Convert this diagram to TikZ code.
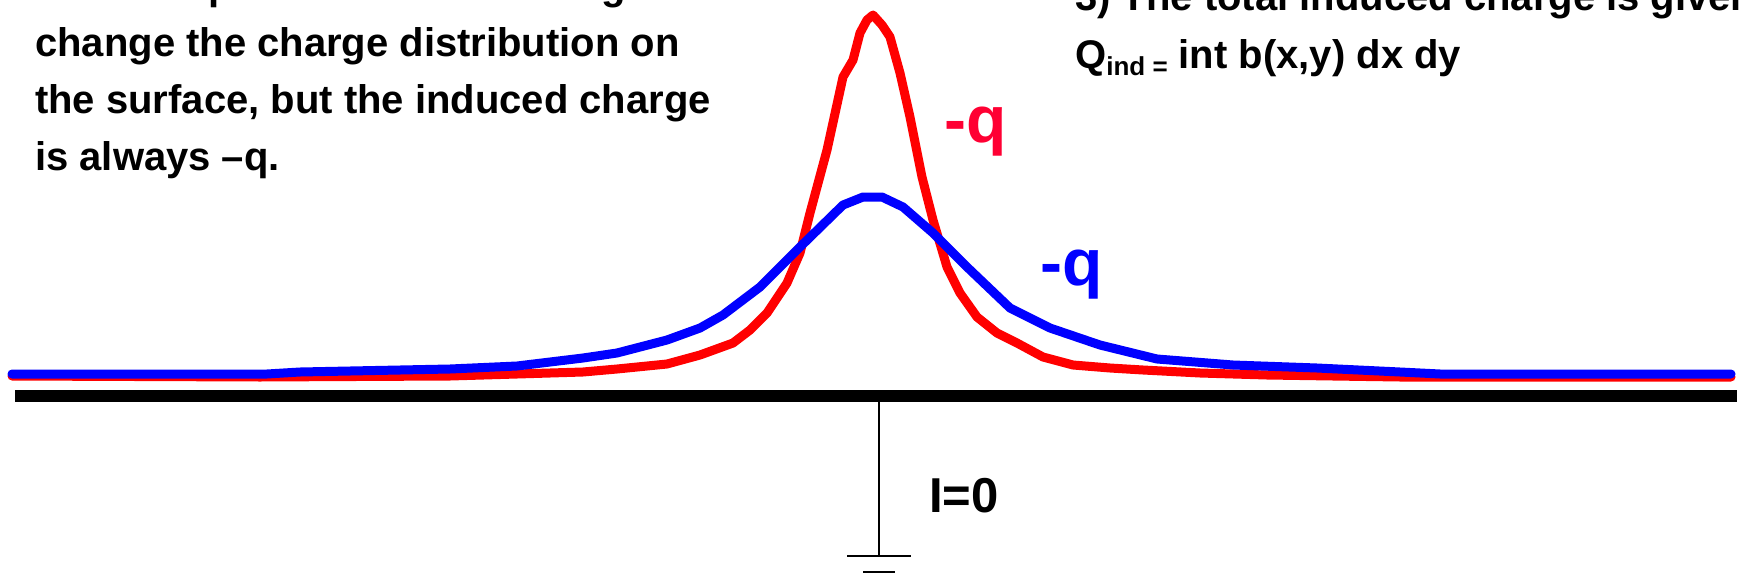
\documentclass[tikz,border=0pt]{standalone}
\usepackage{fontspec}
\setmainfont{Liberation Sans}
\tikzset{
  slide text/.style={anchor=base west, inner sep=0pt, font=\fontsize{40}{57}\selectfont\bfseries},
  charge label/.style={anchor=base, inner sep=0pt, font=\fontsize{66}{66}\selectfont\bfseries},
  density/.style={line width=9pt, line cap=round, line join=round},
}
\begin{document}
\begin{tikzpicture}[x=1pt, y=-1pt]
  \definecolor{sigmared}{RGB}{255,0,0}
  \definecolor{sigmablue}{RGB}{0,0,255}
  \definecolor{labelred}{RGB}{255,0,51}
  \useasboundingbox (0,0) rectangle (1743,584);
  \fill[white] (0,0) rectangle (1743,584);
  % grounded plane
  \coordinate (planeL) at (15,396);
  \coordinate (planeR) at (1737,396);
  \coordinate (tap) at (879,402);
  \coordinate (earth) at (879,556);
  \draw[line width=12pt] (planeL) -- (planeR);
  \draw[line width=2pt] (tap) -- (earth);
  \draw[line width=2pt] ([xshift=-32pt]earth) -- ([xshift=32pt]earth);
  \draw[line width=2pt] ([xshift=-16pt,yshift=-16pt]earth) -- ([xshift=16pt,yshift=-16pt]earth);
  % induced surface charge, charge close to the plane
  \draw[density, sigmared] plot coordinates {(12,376) (260,377) (450,376) (517,374) (583,372)
    (617,369) (667,364) (700,355) (733,343) (750,330) (767,313) (787,283) (800,253) (810,213)
    (827,150) (843,77) (853,60) (860,33) (867,20) (873,15) (882,25) (890,37) (900,73) (910,117)
    (922,177) (933,220) (947,267) (960,293) (977,317) (997,333) (1017,343) (1043,357) (1073,365)
    (1110,368) (1143,370) (1200,373) (1267,375) (1333,376) (1400,377) (1731,377)};
  % charge further away
  \draw[density, sigmablue] plot coordinates {(12,374) (267,374) (300,372) (450,369) (517,366)
    (550,362) (583,358) (617,353) (667,340) (700,328) (723,315) (760,287) (800,247) (843,205)
    (863,197) (882,197) (903,207) (933,233) (967,267) (1010,308) (1050,328) (1100,345)
    (1157,359) (1233,365) (1317,368) (1400,372) (1440,374) (1731,374)};
  \node[charge label, labelred] (qnear) at (976,142) {-q};
  \node[charge label, sigmablue] (qfar) at (1072,285) {-q};
  \node[anchor=base west, inner sep=0pt, font=\fontsize{49}{49}\selectfont\bfseries] (current) at (929,512) {I=0};
  % text of the slide
  \node[slide text] (line0) at (35,-1) {2.\ \ Other positions of the charge will};
  \node[slide text] (line1) at (35,56) {change the charge distribution on};
  \node[slide text] (line2) at (35,113) {the surface, but the induced charge};
  \node[slide text] (line3) at (35,170) {is always –q.};
  \node[slide text] (total) at (1075,10) {3) The total induced charge is given};
  \node[slide text] (qind) at (1075,68) {Q\raisebox{-7pt}{\fontsize{26}{26}\selectfont ind =} int b(x,y) dx dy};
\end{tikzpicture}
\end{document}
